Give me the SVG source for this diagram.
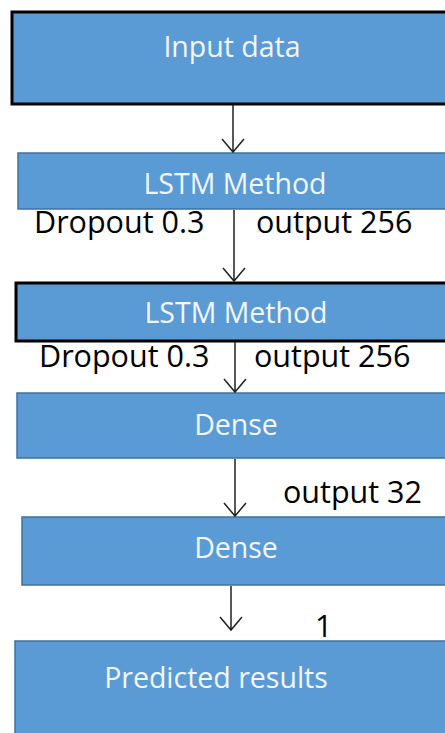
<svg xmlns="http://www.w3.org/2000/svg" width="445" height="733" viewBox="0 0 445 733">
<style>
.box{fill:#5B9BD5;stroke:#41719C;stroke-width:1.5}
.thick{stroke:#000;stroke-width:3}
.t{font-family:"Open Sans","Liberation Sans",sans-serif;font-size:28.5px;fill:#F2F6FC;text-anchor:middle}
.l{font-family:"Open Sans","Liberation Sans",sans-serif;font-size:30.5px;fill:#000}
.c{stroke:#222;stroke-width:1.5;fill:none}
</style>
<rect width="445" height="733" fill="#fff"/>
<g id="input"><rect class="box thick" x="12" y="12" width="440" height="92"/><text class="t" x="232" y="57">Input data</text></g>
<g id="lstm1"><rect class="box" x="18" y="153" width="434" height="56"/><text class="t" x="235" y="194">LSTM Method</text></g>
<g id="lstm2"><rect class="box thick" x="16" y="283" width="436" height="58"/><text class="t" x="236" y="323">LSTM Method</text></g>
<g id="dense1"><rect class="box" x="17" y="393" width="435" height="65"/><text class="t" x="236" y="435">Dense</text></g>
<g id="dense2"><rect class="box" x="22" y="517" width="430" height="68"/><text class="t" x="236" y="558">Dense</text></g>
<g id="pred"><rect class="box" x="15" y="641" width="437" height="100"/><text class="t" x="216" y="688">Predicted results</text></g>
<g id="labels">
<text class="l" x="34" y="233">Dropout 0.3</text>
<text class="l" x="256" y="233">output 256</text>
<text class="l" x="39" y="367">Dropout 0.3</text>
<text class="l" x="254" y="367">output 256</text>
<text class="l" x="283" y="503">output 32</text>
<text class="l" x="315" y="637">1</text>
</g>
<g id="connectors">
<path class="c" d="M233 105V152M222 139L233 152L244 139"/>
<path class="c" d="M234 210V281M223 268L234 281L245 268"/>
<path class="c" d="M235 342V392M224 379L235 392L246 379"/>
<path class="c" d="M235 459V516M224 503L235 516L246 503"/>
<path class="c" d="M231 586V630M220 617L231 630L242 617"/>
</g>
</svg>
